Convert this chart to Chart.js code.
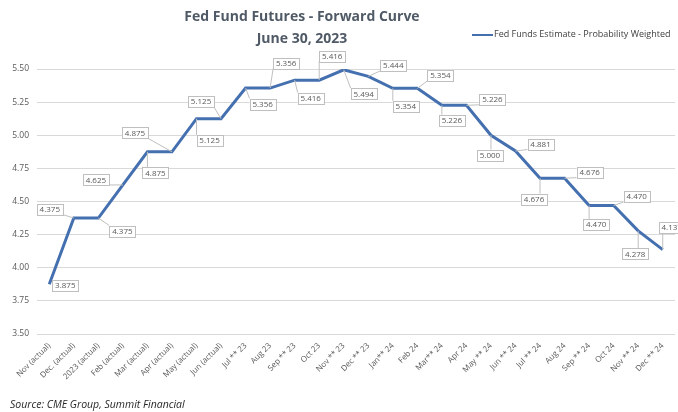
<!DOCTYPE html>
<html>
<head>
<meta charset="utf-8">
<script src="https://cdn.jsdelivr.net/npm/chart.js@4.4.0/dist/chart.umd.min.js"></script>
<style>
  html, body { margin: 0; padding: 0; background: #fff; }
  #wrap { position: relative; width: 678px; height: 412px; overflow: hidden; font-family: 'Open Sans', sans-serif; }
  #title { position: absolute; left: 152px; width: 300px; top: 5px; text-align: center; font-weight: bold; font-size: 14px; line-height: 22px; color: #505a66; }
  #legend { position: absolute; left: 472px; top: 27px; font-size: 9px; color: #404040; white-space: nowrap; }
  #legend span.sw { display: inline-block; width: 21px; height: 0; border-top: 2.5px solid #4470b0; vertical-align: middle; margin-right: 1px; }
  #source { position: absolute; left: 10px; top: 397px; font-size: 10.5px; font-style: italic; color: #262626; }
</style>
</head>
<body>
<div id="wrap">
  <canvas id="curve" width="678" height="412"></canvas>
  <div id="title">Fed Fund Futures - Forward Curve<br>June 30, 2023</div>
  <div id="legend"><span class="sw"></span>Fed Funds Estimate - Probability Weighted</div>
  <div id="source">Source: CME Group, Summit Financial</div>
</div>
<script>
let months = ['Nov (actual)', 'Dec. (actual)', '2023 (actual)', 'Feb (actual)', 'Mar (actual)', 'Apr (actual)',
  'May (actual)', 'Jun (actual)', 'Jul ** 23', 'Aug 23', 'Sep ** 23', 'Oct 23', 'Nov ** 23', 'Dec ** 23',
  'Jan** 24', 'Feb 24', 'Mar** 24', 'Apr 24', 'May ** 24', 'Jun ** 24', 'Jul ** 24', 'Aug 24', 'Sep ** 24',
  'Oct 24', 'Nov ** 24', 'Dec ** 24'];
let estimate = [3.875, 4.375, 4.375, 4.625, 4.875, 4.875, 5.125, 5.125, 5.356, 5.356, 5.416, 5.416, 5.494,
  5.444, 5.354, 5.354, 5.226, 5.226, 5.000, 4.881, 4.676, 4.676, 4.470, 4.470, 4.278, 4.137];
let yTicks = [3.50, 3.75, 4.00, 4.25, 4.50, 4.75, 5.00, 5.25, 5.50];

// where each value box sits relative to its point (px)
let labelShift = [[16, 1], [-24, -9], [24, 13], [-27, -5], [8, 21], [-37, -19], [13, 22], [-20, -17],
  [17, 16], [16, -25], [16, 18], [13, -24], [20, 24], [25, -11], [13, 18], [23, -13], [10, 15], [26, -6],
  [-1, 20], [25, -7], [-6, 21], [25, -6], [7, 19], [23, -9], [-3, 23], [9, -22]];

const valueBoxes = {
  id: 'valueBoxes',
  afterDatasetsDraw(chart) {
    const c = chart.ctx;
    const pts = chart.getDatasetMeta(0).data;
    c.save();
    c.font = '8px "Open Sans"';
    c.textAlign = 'center';
    c.textBaseline = 'middle';
    pts.forEach((p, i) => {
      const w = 26, h = 11;
      const cx = p.x + labelShift[i][0], cy = p.y + labelShift[i][1];
      const l = cx - w / 2, t = cy - h / 2;
      // leader line to nearest edge
      const ex = Math.max(l, Math.min(p.x, l + w));
      const ey = Math.max(t, Math.min(p.y, t + h));
      if (Math.hypot(ex - p.x, ey - p.y) > 5) {
        c.strokeStyle = '#bfbfbf';
        c.lineWidth = 1;
        c.beginPath();
        c.moveTo(p.x, p.y);
        c.lineTo(ex, ey);
        c.stroke();
      }
      c.fillStyle = '#fff';
      c.fillRect(l, t, w, h);
      c.strokeStyle = '#bfbfbf';
      c.strokeRect(Math.round(l) + 0.5, Math.round(t) + 0.5, w, h);
      c.fillStyle = '#595959';
      c.fillText(estimate[i].toFixed(3), cx, cy + 0.5);
    });
    c.restore();
  }
};

const curveChart = new Chart(document.getElementById('curve').getContext('2d'),
  {
    type: 'line',
    data:
    {
      labels: months,
      datasets:
        [{
          label: 'Fed Funds Estimate - Probability Weighted',
          data: estimate,
          borderColor: '#4470b0',
          borderWidth: 3,
          pointRadius: 0,
          tension: 0,
          fill: false
        }]
    },
    options:
    {
      responsive: false,
      animation: false,
      layout: { padding: { top: 69, right: 3, left: 0, bottom: 0 } },
      plugins:
      {
        legend: { display: false },
        title: { display: false },
        tooltip: { enabled: false }
      },
      scales:
      {
        x:
        {
          offset: true,
          grid: { display: false, drawTicks: false },
          border: { display: false },
          ticks:
          {
            autoSkip: false,
            minRotation: 45,
            maxRotation: 45,
            padding: 7,
            color: '#595959',
            font: { family: 'Open Sans', size: 8 }
          },
          afterFit: (scale) => { scale.height = 78; }
        },
        y:
        {
          min: 3.5,
          max: 5.5,
          afterBuildTicks: (scale) => { scale.ticks = yTicks.map(v => ({ value: v })); },
          grid: { color: '#d9d9d9', lineWidth: 1, drawTicks: false },
          border: { display: false },
          ticks:
          {
            padding: 8,
            color: '#595959',
            font: { family: 'Open Sans', size: 8.5 },
            callback: (v) => v.toFixed(2)
          },
          afterFit: (scale) => { scale.width = 37; }
        }
      }
    },
    plugins: [valueBoxes]
  })
</script>
</body>
</html>
